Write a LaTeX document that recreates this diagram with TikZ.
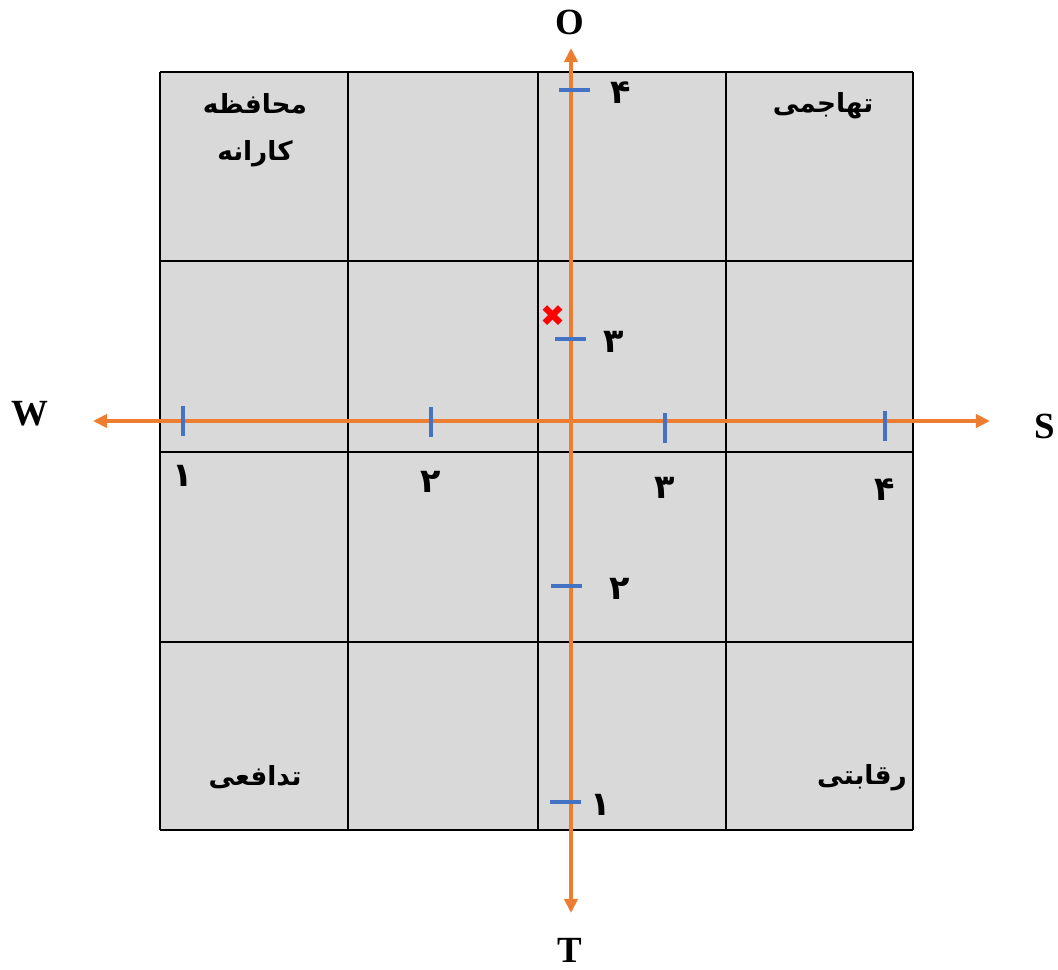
\documentclass[tikz,border=0pt]{standalone}
\usepackage{fontspec}
\setmainfont{Liberation Serif}
\newfontfamily\arabicfont[Script=Arabic]{DejaVu Sans}
\newfontfamily\symbfont{DejaVu Sans}
\TeXXeTstate=1
\usepackage{tikz}
\usetikzlibrary{arrows.meta,positioning}
\definecolor{axisorange}{HTML}{ED7D31}
\definecolor{tickblue}{HTML}{4472C4}
\definecolor{cellgray}{HTML}{D9D9D9}

\begin{document}
\begin{tikzpicture}[x=0.02cm,y=-0.02cm,
  axis/.style={draw=axisorange,line width=2pt},
  tk/.style={draw=tickblue,line width=2.1pt},
  lbl/.style={font=\bfseries\fontsize{21}{24}\selectfont,inner sep=0pt},
  fa/.style={font=\arabicfont\bfseries\fontsize{15}{27}\selectfont,inner sep=0pt,align=center},
  num/.style={font=\arabicfont\bfseries\fontsize{19}{20}\selectfont,inner sep=0pt}]
  \useasboundingbox (0,0) rectangle (1058,970);

  % grid
  \fill[cellgray] (160,72) rectangle (913,830);
  \foreach \x in {160,348,538,726,913}
    \draw[line width=1.2pt] (\x,72) -- (\x,830);
  \foreach \y in {72,261,452,642,830}
    \draw[line width=1.2pt] (160,\y) -- (913,\y);

  % cell titles
  \node[fa] (defense) at (255,130) {\beginR محافظه\endR\\\beginR کارانه\endR};
  \node[fa] (attack) at (823,106) {\beginR تهاجمی\endR};
  \node[fa] (guard) at (255,777) {\beginR تدافعی\endR};
  \node[fa] (rival) at (862,778) {\beginR رقابتی\endR};

  % axes
  \coordinate (wtip) at (93,421);
  \coordinate (stip) at (990,421);
  \coordinate (otip) at (571,48);
  \coordinate (ttip) at (571,913);
  \draw[axis,{Triangle[length=8pt,width=7.5pt]}-{Triangle[length=8pt,width=7.5pt]}] (wtip) -- (stip);
  \draw[axis,{Triangle[length=8pt,width=7.5pt]}-{Triangle[length=8pt,width=7.5pt]}] (otip) -- (ttip);

  \node[lbl] (w) at (30,414) {W};
  \node[lbl] (s) at (1045,426) {S};
  \node[lbl] (o) at (570,22) {O};
  \node[lbl] (t) at (570,950) {T};

  % ticks on the W--S axis
  \foreach \x/\y/\ly/\d in {183/421/476/۱,431/422/482/۲,665/428/488/۳,885/426/490/۴} {
    \draw[tk] (\x,\y-15) -- (\x,\y+15);
    \node[num] at (\x,\ly) {\d};
  }
  % ticks on the O--T axis
  \foreach \y/\xa/\lx/\d in {90/559/621/۴,339/555/614/۳,586/551/620/۲,802/550/601/۱} {
    \draw[tk] (\xa,\y) -- (\xa+31,\y);
    \node[num] at (\lx,\y+3) {\d};
  }

  % position
  \node[font=\symbfont\fontsize{17}{17}\selectfont,text=red,inner sep=0pt] (pos) at (553,316) {✖};
\end{tikzpicture}
\end{document}
